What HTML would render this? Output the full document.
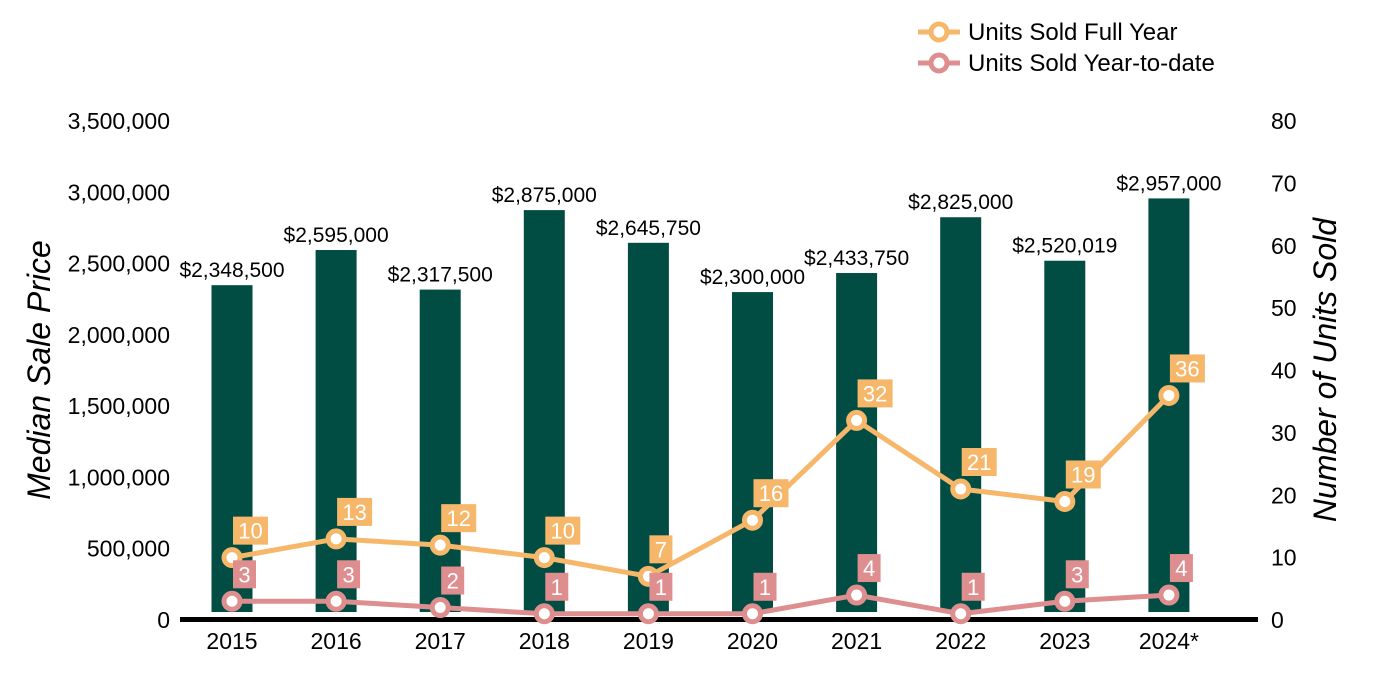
<!DOCTYPE html>
<html><head><meta charset="utf-8"><style>
html,body{margin:0;padding:0;background:#fff;}
svg{display:block;font-family:"Liberation Sans",Arial,sans-serif;}
</style></head><body>
<svg id="chart" width="1400" height="700" viewBox="0 0 1400 700"></svg>
<script>
const years = ["2015","2016","2017","2018","2019","2020","2021","2022","2023","2024*"];
const medianPrice = [2348500,2595000,2317500,2875000,2645750,2300000,2433750,2825000,2520019,2957000];
const unitsFullYear = [10,13,12,10,7,16,32,21,19,36];
const unitsYTD = [3,3,2,1,1,1,4,1,3,4];
const leftTicks = [0,500000,1000000,1500000,2000000,2500000,3000000,3500000];
const rightTicks = [0,10,20,30,40,50,60,70,80];

const NS="http://www.w3.org/2000/svg";
const svg=document.getElementById('chart');
function el(tag,attrs,parent){const e=document.createElementNS(NS,tag);for(const k in attrs)e.setAttribute(k,attrs[k]);(parent||svg).appendChild(e);return e;}
const y0=620, yTop=121;
const yL=v=>y0-(v/3500000)*(y0-yTop);
const yR=v=>y0-(v/80)*(y0-yTop);
const xC=i=>232+i*104.1;
const fmt=n=>n.toLocaleString('en-US');

leftTicks.forEach(t=>{const e=el('text',{x:170,y:yL(t)+8,'text-anchor':'end','font-size':23,fill:'#000'});e.textContent=fmt(t);

});
rightTicks.forEach(t=>{const e=el('text',{x:1271,y:yR(t)+8,'text-anchor':'start','font-size':23,fill:'#000'});e.textContent=t;

});
let t1=el('text',{transform:'translate(50,370) rotate(-90)','text-anchor':'middle','font-size':32,'font-style':'italic',fill:'#000'});t1.textContent='Median Sale Price';


let t2=el('text',{transform:'translate(1336,370) rotate(-90)','text-anchor':'middle','font-size':32,'font-style':'italic',fill:'#000'});t2.textContent='Number of Units Sold';



medianPrice.forEach((v,i)=>{
 const b=el('rect',{x:xC(i)-20.5,y:yL(v),width:41,height:612-yL(v),fill:'#024d43'});
 
 
 const l=el('text',{x:xC(i),y:yL(v)-8,'text-anchor':'middle','font-size':21,fill:'#000'});l.textContent='$'+fmt(v);
 
 
});
const ax=el('rect',{x:180,y:617,width:1078,height:5,fill:'#000'});


years.forEach((y,i)=>{const e=el('text',{x:xC(i),y:649,'text-anchor':'middle','font-size':23,fill:'#000'});e.textContent=y;

});

function series(vals,color,name){
 const pts=vals.map((v,i)=>xC(i)+','+yR(v)).join(' ');
 const pl=el('polyline',{points:pts,fill:'none',stroke:color,'stroke-width':5,'stroke-linejoin':'round'});
 
 
 vals.forEach((v,i)=>{
  const c=el('circle',{cx:xC(i),cy:yR(v),r:8,fill:'#fff',stroke:color,'stroke-width':5});
  
  
  const s=String(v), w=s.length>1?35:23;
  const r=el('rect',{x:xC(i)+1,y:yR(v)-41,width:w,height:28,fill:color});
  
  
  const t=el('text',{x:xC(i)+1+w/2,y:yR(v)-19,'text-anchor':'middle','font-size':22,fill:'#fff'});t.textContent=s;
  
  
 });
}
series(unitsFullYear,'#f6b76b','units-full-year');
series(unitsYTD,'#df8e8f','units-ytd');

[['Units Sold Full Year','#f6b76b',32,'legend-full-year'],['Units Sold Year-to-date','#df8e8f',63,'legend-ytd']].forEach(d=>{
 const g=el('g',{});
 
 
 el('line',{x1:918,y1:d[2],x2:960,y2:d[2],stroke:d[1],'stroke-width':5},g);
 el('circle',{cx:939,cy:d[2],r:8,fill:'#fff',stroke:d[1],'stroke-width':5},g);
 const t=el('text',{x:968,y:d[2]+8,'font-size':24,fill:'#000'},g);t.textContent=d[0];
});
</script>
</body></html>
